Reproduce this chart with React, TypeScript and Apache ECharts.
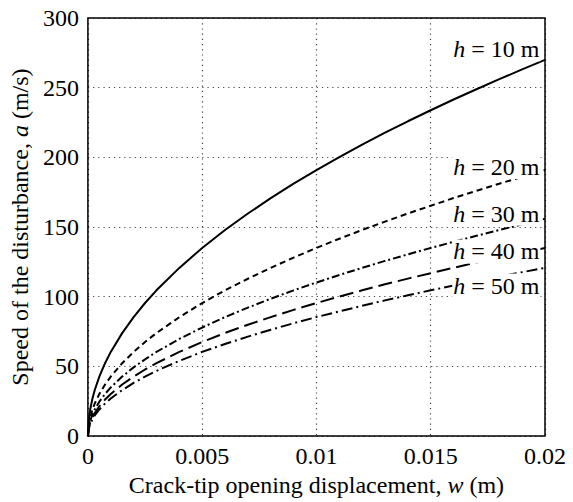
import React, { useEffect, useRef } from "react";
import * as echarts from "echarts";

const wValues = [0, 0.00005, 0.0001, 0.0002, 0.0003, 0.0005, 0.00075, 0.001, 0.0015, 0.002, 0.0025, 0.003, 0.004, 0.005, 0.006, 0.007, 0.008, 0.009, 0.01, 0.011, 0.012, 0.013, 0.014, 0.015, 0.016, 0.017, 0.018, 0.019, 0.02];

const h10 = [0, 13.5, 19.1, 27.0, 33.1, 42.7, 52.3, 60.4, 73.9, 85.4, 95.5, 104.6, 120.7, 135.0, 147.9, 159.7, 170.7, 181.1, 190.9, 200.2, 209.1, 217.7, 225.9, 233.8, 241.5, 248.9, 256.1, 263.1, 270.0];
const h20 = [0, 9.5, 13.5, 19.1, 23.4, 30.2, 37.0, 42.7, 52.3, 60.4, 67.5, 74.0, 85.3, 95.5, 104.6, 112.9, 120.7, 128.1, 135.0, 141.6, 147.9, 153.9, 159.7, 165.3, 170.8, 176.0, 181.1, 186.0, 190.9];
const h30 = [0, 7.8, 11.0, 15.6, 19.1, 24.7, 30.2, 34.9, 42.7, 49.3, 55.1, 60.4, 69.7, 77.9, 85.4, 92.2, 98.6, 104.6, 110.2, 115.6, 120.7, 125.7, 130.4, 135.0, 139.4, 143.7, 147.9, 151.9, 155.9];
const h40 = [0, 6.8, 9.6, 13.5, 16.6, 21.4, 26.2, 30.2, 37.0, 42.7, 47.8, 52.3, 60.4, 67.5, 74.0, 79.9, 85.4, 90.6, 95.5, 100.1, 104.6, 108.9, 113.0, 116.9, 120.8, 124.5, 128.1, 131.6, 135.0];
const h50 = [0, 6.0, 8.5, 12.1, 14.8, 19.1, 23.4, 27.0, 33.0, 38.2, 42.7, 46.8, 54.0, 60.4, 66.1, 71.4, 76.3, 81.0, 85.4, 89.5, 93.5, 97.4, 101.0, 104.6, 108.0, 111.3, 114.5, 117.6, 120.7];

const seriesNames = ["h = 10 m", "h = 20 m", "h = 30 m", "h = 40 m", "h = 50 m"];
const labelHeights = ["10", "20", "30", "40", "50"];
// label anchor positions in data coordinates (right edge, vertical centre)
const labelX = [0.0198, 0.0198, 0.0198, 0.0198, 0.0198];
const labelY = [277.5, 193, 159.5, 132.5, 108];

const FONT = "Liberation Serif";
const FS = 24;

export default function App() {
  const ref = useRef<HTMLDivElement>(null);
  useEffect(() => {
    if (!ref.current) return;
    const chart = echarts.init(ref.current, undefined, { renderer: "svg" });
    const all = [h10, h20, h30, h40, h50];
    const dashes: any[] = ["solid", [6, 4], [8, 3, 2, 3], [14, 6], [11, 4, 2, 4]];
    const series = all.map((vals, i) => ({
      name: seriesNames[i],
      type: "line",
      data: wValues.map((w, j) => [w, vals[j]]),
      showSymbol: false,
      smooth: false,
      lineStyle: { color: "#000", width: 2, type: dashes[i] },
      z: 2,
    }));
    chart.setOption({
      animation: false,
      textStyle: { fontFamily: FONT, fontSize: FS },
      grid: {
        left: 84,
        right: 28,
        top: 18,
        bottom: 63,
        show: true,
        borderColor: "#000",
        borderWidth: 1.5,
        z: 5,
      },
      xAxis: {
        type: "value",
        min: 0,
        max: 0.02,
        interval: 0.005,
        name: "Crack-tip opening displacement, {i|w} (m)",
        nameLocation: "middle",
        nameGap: 34,
        nameTextStyle: {
          fontFamily: FONT,
          fontSize: FS,
          color: "#000",
          rich: { i: { fontFamily: FONT, fontSize: FS, fontStyle: "italic", color: "#000" } },
        },
        axisLine: { show: false },
        axisTick: { show: false },
        axisLabel: { fontFamily: FONT, fontSize: FS, color: "#000", margin: 8 },
        splitLine: { show: true, lineStyle: { color: "#444", width: 1.2, type: [1.2, 4] } },
      },
      yAxis: {
        type: "value",
        min: 0,
        max: 300,
        interval: 50,
        name: "Speed of the disturbance, {i|a} (m/s)",
        nameLocation: "middle",
        nameGap: 50,
        nameTextStyle: {
          fontFamily: FONT,
          fontSize: FS,
          color: "#000",
          rich: { i: { fontFamily: FONT, fontSize: FS, fontStyle: "italic", color: "#000" } },
        },
        axisLine: { show: false },
        axisTick: { show: false },
        axisLabel: { fontFamily: FONT, fontSize: FS, color: "#000", margin: 9 },
        splitLine: { show: true, lineStyle: { color: "#444", width: 1.2, type: [1.2, 4] } },
      },
      series,
    });
    const graphics = labelHeights.map((hv, i) => {
      const p = chart.convertToPixel({ gridIndex: 0 }, [labelX[i], labelY[i]]) as number[];
      return {
        type: "text",
        x: p[0],
        y: p[1],
        z: 10,
        style: {
          text: "{i|h} = " + hv + " m",
          align: "right",
          verticalAlign: "middle",
          fontFamily: FONT,
          fontSize: FS,
          fill: "#000",
          backgroundColor: "#fff",
          padding: [0, 1, 0, 1],
          rich: { i: { fontFamily: FONT, fontSize: FS, fontStyle: "italic" } },
        },
      };
    });
    chart.setOption({ graphic: graphics });
    return () => chart.dispose();
  }, []);
  return <div ref={ref} style={{ width: 573, height: 502, margin: "-8px 0 0 -8px" }} />;
}
